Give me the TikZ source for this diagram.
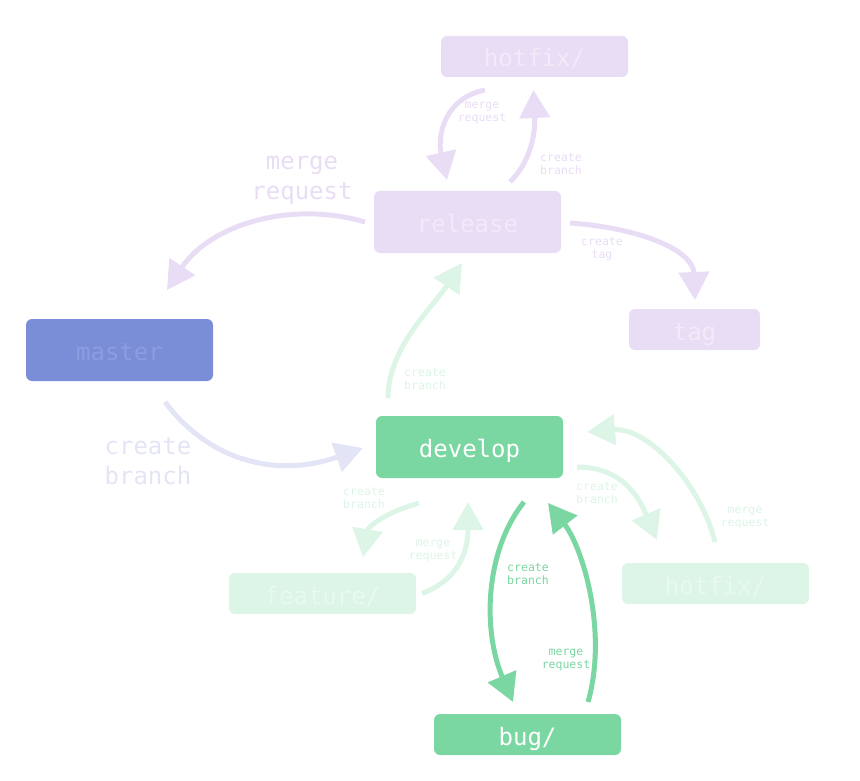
\documentclass[tikz,border=0pt]{standalone}
\usepackage{fontspec}
\setmonofont{DejaVu Sans Mono}
\usetikzlibrary{arrows.meta, calc}

\definecolor{lilac}{HTML}{E9DCF5}
\definecolor{lilactext}{HTML}{F1EAF9}
\definecolor{masterblue}{HTML}{7A8ED7}
\definecolor{mastertext}{HTML}{8C9DE0}
\definecolor{periwinkle}{HTML}{E3E5F6}
\definecolor{mint}{HTML}{7AD7A2}
\definecolor{palemint}{HTML}{DCF5E6}
\definecolor{palemintext}{HTML}{E8F9EF}

\begin{document}
\begin{tikzpicture}[
x=1pt, y=-1pt,
box/.style={rectangle, rounded corners=6pt, minimum width=187pt, inner sep=0pt, text height=21pt, text depth=0pt, font=\ttfamily\fontsize{24}{24}\selectfont},
tall/.style={box, minimum height=62pt},
flat/.style={box, minimum height=41pt},
arrow/.style={-{Triangle[length=28pt, width=30pt]}, line width=5pt},
big/.style={align=center, font=\ttfamily\fontsize{24}{30}\selectfont},
tiny/.style={align=center, font=\ttfamily\fontsize{11.5}{13.5}\selectfont}
]

\useasboundingbox (0,0) rectangle (860,781);

\node[flat, fill=lilac, text=lilactext] (hotfixtop) at (534.5,56.5) {hotfix/};
\node[tall, fill=lilac, text=lilactext] (release) at (467.5,222) {release};
\node[flat, fill=lilac, text=lilactext, minimum width=131pt] (tag) at (694.5,329.5) {tag};
\node[tall, fill=masterblue, text=mastertext] (master) at (119.5,350) {master};
\node[tall, fill=mint, text=white] (develop) at (469.5,447) {develop};
\node[flat, fill=palemint, text=palemintext] (feature) at (322.5,593.5) {feature/};
\node[flat, fill=palemint, text=palemintext] (hotfix) at (715.5,583.5) {hotfix/};
\node[flat, fill=mint, text=white] (bug) at (527.5,734.5) {bug/};

\draw[arrow, lilac] ($(release)+(-102.5,0)$) .. controls +(-75,-22) and +(43,-65) .. ($(master)+(47.5,-60)$);
\draw[arrow, periwinkle] ($(master)+(45.5,52)$) .. controls +(45,60) and +(-85,30) .. ($(develop)+(-106.5,1)$);
\draw[arrow, lilac] ($(release)+(42.5,-40)$) .. controls +(20,-20) and +(2,45) .. ($(hotfixtop)+(-1,33.5)$);
\draw[arrow, lilac] ($(hotfixtop)+(-49.5,33.5)$) .. controls +(-40,8) and +(-10,-45) .. ($(release)+(-20.5,-42)$);
\draw[arrow, lilac] ($(release)+(102.5,1)$) .. controls +(70,5) and +(-2,-50) .. ($(tag)+(0.5,-29.5)$);
\draw[arrow, palemint] ($(develop)+(-81.5,-49)$) .. controls +(0,-50) and +(-30,45) .. ($(release)+(-5.5,41)$);
\draw[arrow, palemint] ($(develop)+(-50.5,56)$) .. controls +(-35,10) and +(5,-30) .. ($(feature)+(40.5,-36.5)$);
\draw[arrow, palemint] ($(feature)+(99.5,0)$) .. controls +(40,-15) and +(0,45) .. ($(develop)+(-1.5,55)$);
\draw[arrow, palemint] ($(develop)+(107.5,20)$) .. controls +(50,0) and +(-15,-35) .. ($(hotfix)+(-58.5,-43.5)$);
\draw[arrow, palemint] ($(hotfix)+(-0.5,-41.5)$) .. controls +(-15,-60) and +(60,-5) .. ($(develop)+(117.5,-15)$);
\draw[arrow, mint] ($(develop)+(54.5,55)$) .. controls +(-40,50) and +(-30,-70) .. ($(bug)+(-14.5,-32.5)$);
\draw[arrow, mint] ($(bug)+(60.5,-32.5)$) .. controls +(20,-70) and +(35,45) .. ($(develop)+(78.5,56)$);

\node[big, text=lilac] (releasemerge) at (302,180) {merge\\request};
\node[big, text=periwinkle] (mastercreate) at (148,461) {create\\branch};
\node[tiny, text=lilac] (hotfixmerge) at (482,113) {merge\\request};
\node[tiny, text=lilac] (hotfixcreate) at (561,164) {create\\branch};
\node[tiny, text=lilac] (tagcreate) at (602,249) {create\\tag};
\node[tiny, text=palemint] (releasecreate) at (425,379) {create\\branch};
\node[tiny, text=palemint] (featurecreate) at (364,498) {create\\branch};
\node[tiny, text=palemint] (featuremerge) at (433,551) {merge\\request};
\node[tiny, text=palemint] (hotfixgcreate) at (597,493) {create\\branch};
\node[tiny, text=palemint] (hotfixgmerge) at (745,518) {merge\\request};
\node[tiny, text=mint] (bugcreate) at (528,574) {create\\branch};
\node[tiny, text=mint] (bugmerge) at (566,660) {merge\\request};

\end{tikzpicture}
\end{document}
